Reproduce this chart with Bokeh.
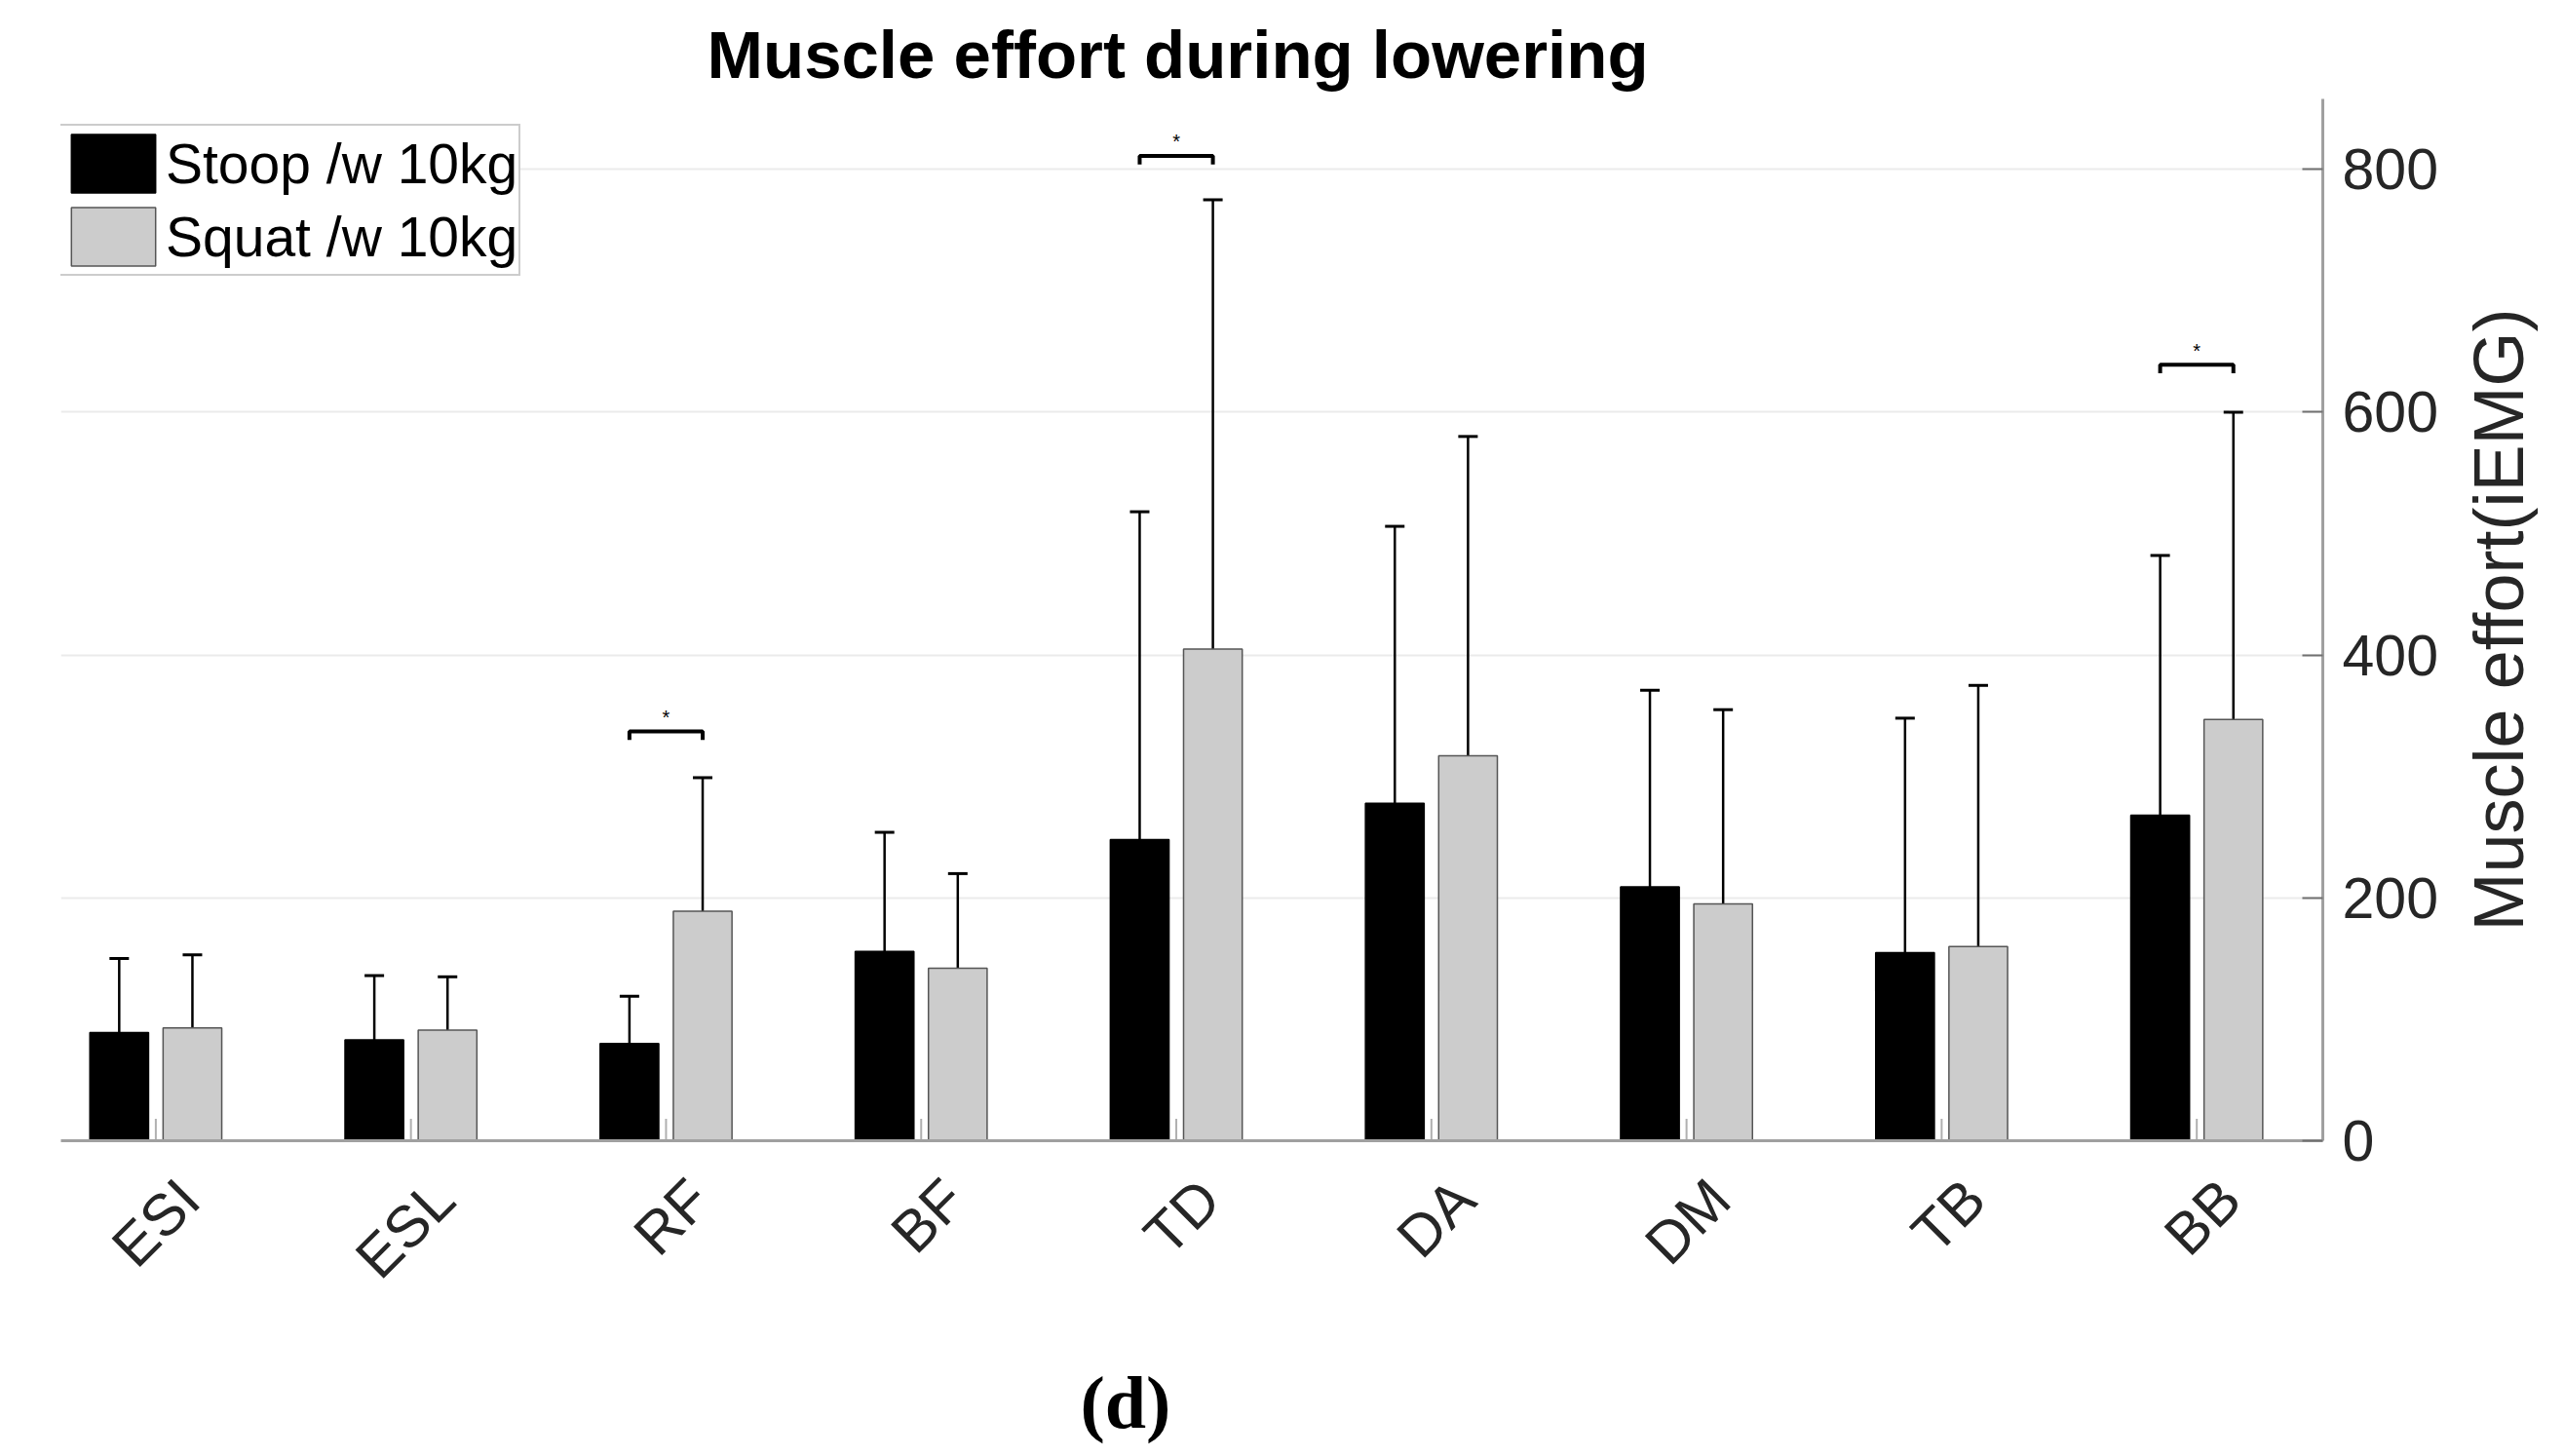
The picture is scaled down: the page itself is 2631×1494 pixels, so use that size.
import numpy as np
from math import pi
from bokeh.plotting import figure
from bokeh.layouts import row, column
from bokeh.models import (ColumnDataSource, Legend, LegendItem, FixedTicker, Whisker,
                          TeeHead, Range1d)
from bokeh.core.properties import value
from bokeh.embed import file_html
from bokeh.resources import INLINE

# ---------------- data ----------------
muscles = ["ESI", "ESL", "RF", "BF", "TD", "DA", "DM", "TB", "BB"]
stoop_mean = [89, 83, 80, 156, 248, 278, 209, 155, 268]
stoop_sd = [61, 53, 39, 98, 270, 228, 162, 193, 214]
squat_mean = [93, 91, 189, 142, 405, 317, 195, 160, 347]
squat_sd = [60, 44, 110, 78, 370, 263, 160, 215, 253]
sig_muscles = ["RF", "TD", "BB"]
sig_level = [337, 811, 639]
y_ticks = [0, 200, 400, 600, 800]

FONT = "Liberation Sans"
TXT = "#262626"

H_MAIN = 1360
H_CAP = 134
TOP, BOTTOM = 101, 190
W_MAIN, W_LAB = 2513, 95

pos = np.arange(1, len(muscles) + 1)
off = 0.1435
bw = 0.23
label_shift = 0.131   # MATLAB-style rotated labels sit right of the tick

src_stoop = ColumnDataSource(dict(x=pos - off, mean=stoop_mean,
                                  upper=np.array(stoop_mean) + np.array(stoop_sd)))
src_squat = ColumnDataSource(dict(x=pos + off, mean=squat_mean,
                                  upper=np.array(squat_mean) + np.array(squat_sd)))

p = figure(width=W_MAIN, height=H_MAIN, output_backend="svg", toolbar_location=None,
           x_range=Range1d(0.628, 9.494), y_range=Range1d(0, 858),
           y_axis_location="right", min_border_left=62, min_border_right=130,
           min_border_top=TOP, min_border_bottom=BOTTOM)
p.outline_line_color = None

p.title.text = "Muscle effort during lowering"
p.title.align = "left"
p.title.offset = 663
p.title.text_font = FONT
p.title.text_font_size = "69px"
p.title.text_font_style = "bold"
p.title.text_color = "black"
p.title.standoff = 14

# inner x tick marks at the group centres
p.segment(x0=pos, y0=0, x1=pos, y1=18, line_color="#b0b0b0", line_width=2)

r1 = p.vbar(x="x", top="mean", width=bw, source=src_stoop,
            fill_color="black", line_color="black", line_width=1.5)
r2 = p.vbar(x="x", top="mean", width=bw, source=src_squat,
            fill_color="#cccccc", line_color="#555555", line_width=1.5)

for src in (src_stoop, src_squat):
    w = Whisker(source=src, base="x", upper="upper", lower="mean", dimension="height",
                line_color="black", line_width=2.5,
                upper_head=TeeHead(size=20, line_width=3, line_color="black"),
                lower_head=None)
    p.add_layout(w)

# significance brackets
sx, sy = [], []
for m, lvl in zip(sig_muscles, sig_level):
    c = muscles.index(m) + 1
    x0, x1 = c - off, c + off
    p.line([x0, x0, x1, x1], [lvl - 7, lvl, lvl, lvl - 7], line_color="black", line_width=4)
    sx.append(c)
    sy.append(lvl + 3)
p.text(x=sx, y=sy, text=["*"] * len(sx), text_align="center", text_baseline="bottom",
       text_font=value(FONT), text_font_size="20px", text_color="black")

# axes
label_ticks = [float(i) + label_shift for i in pos]
xa = p.xaxis[0]
xa.ticker = FixedTicker(ticks=label_ticks)
xa.major_label_overrides = {t: m for t, m in zip(label_ticks, muscles)}
xa.major_label_orientation = pi / 4
xa.major_label_text_font = FONT
xa.major_label_text_font_size = "60px"
xa.major_label_text_color = TXT
xa.major_tick_line_color = None
xa.minor_tick_line_color = None
xa.axis_line_color = "#a0a0a0"
xa.axis_line_width = 3
xa.major_label_standoff = 44

ya = p.yaxis[0]
ya.ticker = FixedTicker(ticks=y_ticks)
ya.major_label_text_font = FONT
ya.major_label_text_font_size = "59px"
ya.major_label_text_color = TXT
ya.major_tick_in = 21
ya.major_tick_out = 0
ya.major_tick_line_color = "#707070"
ya.major_tick_line_width = 2
ya.minor_tick_line_color = None
ya.axis_line_color = "#a0a0a0"
ya.axis_line_width = 3
ya.major_label_standoff = 20

p.xgrid.visible = False
p.ygrid.ticker = FixedTicker(ticks=y_ticks)
p.ygrid.grid_line_color = "#ebebeb"
p.ygrid.grid_line_width = 2

legend = Legend(items=[LegendItem(label="Stoop /w 10kg", renderers=[r1]),
                       LegendItem(label="Squat /w 10kg", renderers=[r2])],
                location=(-3, 887))
legend.label_text_font = FONT
legend.label_text_font_size = "57px"
legend.label_text_color = "black"
legend.glyph_width = 108
legend.glyph_height = 75
legend.label_height = 75
legend.label_standoff = 0
legend.padding = 1
legend.spacing = 0
legend.margin = 0
legend.border_line_color = "#9a9a9a"
legend.border_line_width = 2
legend.background_fill_color = "white"
legend.background_fill_alpha = 1
p.add_layout(legend, "center")

# right-hand y-axis label, reading bottom-to-top, in a thin companion figure
q = figure(width=W_LAB, height=H_MAIN, output_backend="svg", toolbar_location=None,
           title_location="left", x_range=Range1d(0, 1), y_range=Range1d(0, 1),
           min_border_left=90, min_border_right=0,
           min_border_top=TOP, min_border_bottom=BOTTOM)
q.title.text = "Muscle effort(iEMG)"
q.title.align = "center"
q.title.text_font = FONT
q.title.text_font_size = "72px"
q.title.text_font_style = "normal"
q.title.text_color = TXT
q.title.standoff = 0
q.xaxis.visible = False
q.yaxis.visible = False
q.xgrid.visible = False
q.ygrid.visible = False
q.outline_line_color = None

# panel caption "(d)" in a thin strip underneath
r = figure(width=W_MAIN + W_LAB, height=H_CAP, output_backend="svg", toolbar_location=None,
           x_range=Range1d(0, 1), y_range=Range1d(0, 1),
           min_border_left=0, min_border_right=0, min_border_top=120, min_border_bottom=0)
r.title.text = "(d)"
r.title.align = "left"
r.title.offset = 1108
r.title.text_font = "Liberation Serif"
r.title.text_font_size = "76px"
r.title.text_font_style = "bold"
r.title.text_color = "black"
r.title.standoff = 0
r.xaxis.visible = False
r.yaxis.visible = False
r.xgrid.visible = False
r.ygrid.visible = False
r.outline_line_color = None

layout = column(row(p, q), r)
open("out.html", "w").write(file_html(layout, INLINE))
